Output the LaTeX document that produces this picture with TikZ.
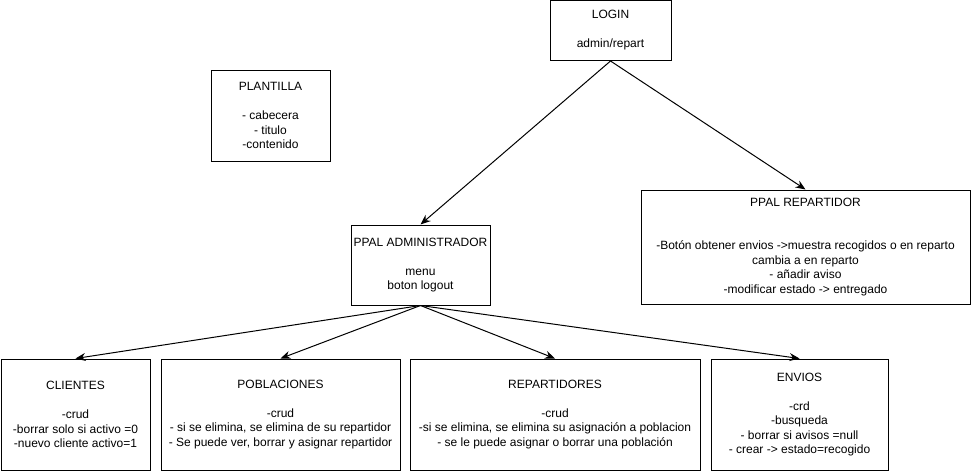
\documentclass[tikz,border=0pt]{standalone}
\usepackage{fontspec}
\setmainfont{Liberation Sans}
\usetikzlibrary{arrows.meta}

\begin{document}
\begin{tikzpicture}[x=1pt,y=-1pt]
\tikzstyle{every node}+=[inner sep=0pt, align=center, font=\fontsize{12}{14.5}\selectfont]
\tikzstyle{pantalla}=[draw=black, line width=1pt]
\tikzstyle{flecha}=[black, line width=1pt, -{Stealth[length=10pt,width=8pt]}]
\useasboundingbox (0,0) rectangle (971,471);
\node [pantalla, minimum width=121pt, minimum height=60pt] (login) at (610.5,30.5) {LOGIN\\[14.5pt]admin/repart};
\node [pantalla, minimum width=119pt, minimum height=91pt] (plantilla) at (270.5,115.5) {PLANTILLA\\[14.5pt]- cabecera\\- titulo\\-contenido};
\node [pantalla, minimum width=139pt, minimum height=80pt] (admin) at (420.5,265) {PPAL ADMINISTRADOR\\[14.5pt]menu\\boton logout};
\node [pantalla, minimum width=329pt, minimum height=114pt] (repartidor) at (805.5,247) {PPAL REPARTIDOR\\[29pt]-Botón obtener envios ->muestra recogidos o en reparto\\cambia a en reparto\\- añadir aviso\\-modificar estado -> entregado};
\node [pantalla, minimum width=149pt, minimum height=111pt] (clientes) at (75.5,414.5) {CLIENTES\\[14.5pt]-crud\\-borrar solo si activo =0\\-nuevo cliente activo=1};
\node [pantalla, minimum width=239pt, minimum height=111pt] (poblaciones) at (280.5,414.5) {POBLACIONES\\[14.5pt]-crud\\- si se elimina, se elimina de su repartidor\\- Se puede ver, borrar y asignar repartidor};
\node [pantalla, minimum width=290pt, minimum height=111pt] (repartidores) at (555,414.5) {REPARTIDORES\\[14.5pt]-crud\\-si se elimina, se elimina su asignación a poblacion\\- se le puede asignar o borrar una población};
\node [pantalla, minimum width=177pt, minimum height=111pt] (envios) at (799.5,414.5) {ENVIOS\\[14.5pt]-crd\\-busqueda\\- borrar si avisos =null\\- crear -> estado=recogido};
\draw [flecha] (login.south) -- (admin.north);
\draw [flecha] (login.south) -- (repartidor.north);
\draw [flecha] (admin.south) -- (clientes.north);
\draw [flecha] (admin.south) -- (poblaciones.north);
\draw [flecha] (admin.south) -- (repartidores.north);
\draw [flecha] (admin.south) -- (envios.north);
\end{tikzpicture}
\end{document}
